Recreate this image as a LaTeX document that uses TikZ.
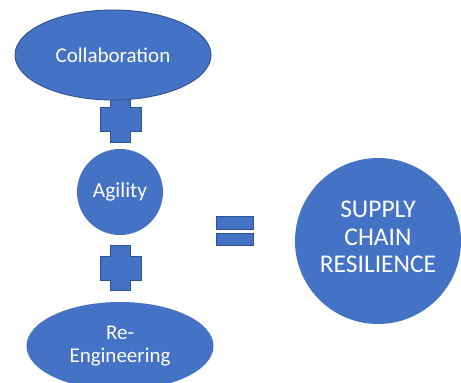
\documentclass[tikz,border=0pt]{standalone}
\usepackage{fontspec}
\setmainfont{Carlito}
\usetikzlibrary{shapes.geometric}
\definecolor{shapefill}{HTML}{4472C4}
\definecolor{shapeedge}{HTML}{2F528F}
\tikzset{
  blob/.style={ellipse, fill=shapefill, text=white, inner sep=0pt, align=center},
  edged/.style={draw=shapeedge, line width=0.9pt},
  bar/.style={rectangle, fill=shapefill, draw=shapeedge, line width=0.9pt, inner sep=0pt,
    minimum width=37pt, minimum height=12.5pt},
  pics/plussign/.style={code={
    \draw[fill=shapefill, draw=shapeedge, line width=0.9pt]
      (-10,-22.5) -- (10,-22.5) -- (10,-12) -- (20.5,-12) -- (20.5,12) -- (10,12)
      -- (10,22.5) -- (-10,22.5) -- (-10,12) -- (-20.5,12) -- (-20.5,-12) -- (-10,-12) -- cycle;
  }}
}
\begin{document}
\begin{tikzpicture}[x=1pt,y=-1pt]
\useasboundingbox (0,0) rectangle (461,383);
% plus signs between the terms
\pic (plusA) at (120.5,119.5) {plussign};
\pic (plusB) at (120.5,268) {plussign};
% the three terms
\node[blob, edged, minimum width=196pt, minimum height=90pt, font=\fontsize{21}{25}\selectfont]
  (collab) at (113,55) {Collaboration};
\node[blob, circle, minimum size=86pt, font=\fontsize{21.5}{25}\selectfont]
  (agility) at (120,192) {Agility};
\node[blob, minimum width=187pt, minimum height=88pt, font=\fontsize{21}{23.5}\selectfont]
  (reeng) at (120,346) {Re-\\Engineering};
% equals sign
\node[bar] (eqtop) at (234.5,223) {};
\node[bar] (eqbottom) at (234.5,239.5) {};
% result, its text set a little above the centre
\node[blob, circle, minimum size=166pt,
  label={[text=white, align=center, yshift=4pt, font=\fontsize{25.5}{27.8}\selectfont]center:SUPPLY\\CHAIN\\RESILIENCE}]
  (result) at (378,241) {};
\end{tikzpicture}
\end{document}
